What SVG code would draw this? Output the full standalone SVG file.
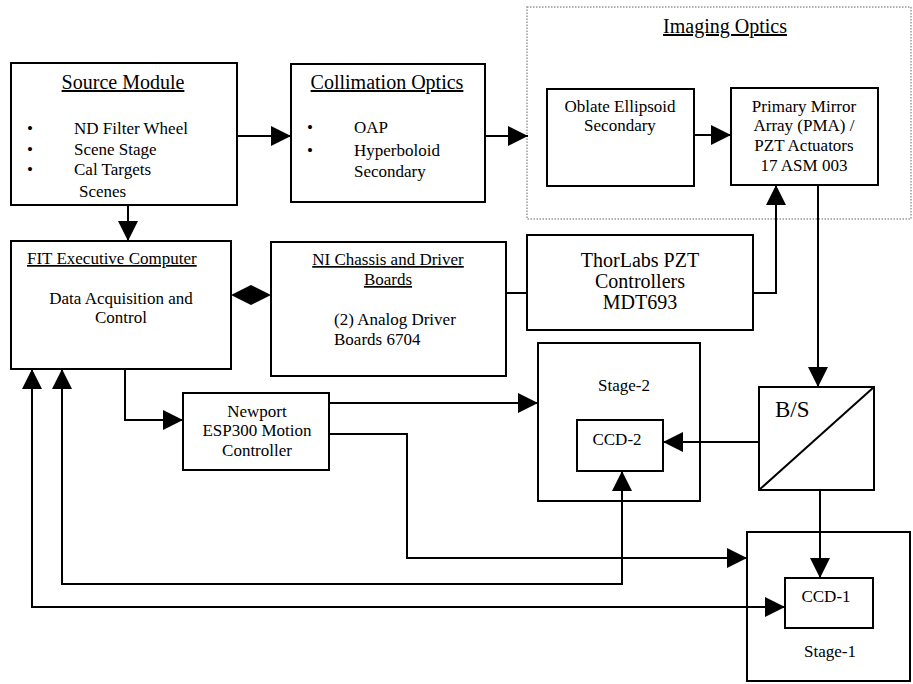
<svg xmlns="http://www.w3.org/2000/svg" width="913" height="684" viewBox="0 0 913 684" font-family="'Liberation Serif', 'DejaVu Serif', serif">
<style>
text{font-family:'Liberation Serif','DejaVu Serif',serif;fill:#000}
.t17{font-size:17px}
.t20{font-size:20px}
.u{text-decoration:underline}
.m{text-anchor:middle}
.box{fill:#fff;stroke:#000;stroke-width:2}
.c{fill:none;stroke:#000;stroke-width:2}
</style>
<defs>
<marker id="ah" viewBox="0 0 20 20" markerWidth="20" markerHeight="20" refX="20" refY="10" orient="auto-start-reverse" markerUnits="userSpaceOnUse">
<path d="M0,0 L20,10 L0,20 z" fill="#000"/>
</marker>
</defs>
<rect width="913" height="684" fill="#fff"/>

<g id="imaging-optics">
<rect x="527" y="7" width="384" height="212" fill="none" stroke="#999" stroke-width="1.5" stroke-dasharray="1.5 1.5"/>
<text x="725" y="33" class="t20 m u">Imaging Optics</text>
</g>

<g id="source-module">
<rect class="box" x="11" y="63" width="226" height="142"/>
<text x="123" y="89" class="t20 m u">Source Module</text>
<text x="30" y="134" class="t17 m">•</text>
<text x="74" y="134" class="t17">ND Filter Wheel</text>
<text x="30" y="155" class="t17 m">•</text>
<text x="74" y="155" class="t17">Scene Stage</text>
<text x="30" y="175" class="t17 m">•</text>
<text x="74" y="175" class="t17">Cal Targets</text>
<text x="79" y="197" class="t17">Scenes</text>
</g>

<g id="collimation-optics">
<rect class="box" x="291" y="64" width="194" height="138"/>
<text x="387" y="89" class="t20 m u">Collimation Optics</text>
<text x="310" y="133" class="t17 m">•</text>
<text x="354" y="133" class="t17">OAP</text>
<text x="310" y="156" class="t17 m">•</text>
<text x="354" y="156" class="t17">Hyperboloid</text>
<text x="354" y="177" class="t17">Secondary</text>
</g>

<g id="oblate-ellipsoid">
<rect class="box" x="547" y="89" width="147" height="97"/>
<text x="620" y="112" class="t17 m">Oblate Ellipsoid</text>
<text x="620" y="131" class="t17 m">Secondary</text>
</g>

<g id="pma">
<rect class="box" x="731" y="88" width="147" height="97"/>
<text x="804" y="112" class="t17 m">Primary Mirror</text>
<text x="804" y="131" class="t17 m">Array (PMA) /</text>
<text x="804" y="151" class="t17 m">PZT Actuators</text>
<text x="804" y="171" class="t17 m">17 ASM 003</text>
</g>

<g id="fit-computer">
<rect class="box" x="11" y="241" width="220" height="128"/>
<text x="27" y="264" class="t17 u">FIT Executive Computer</text>
<text x="121" y="304" class="t17 m">Data Acquisition and</text>
<text x="121" y="323" class="t17 m">Control</text>
</g>

<g id="ni-chassis">
<rect class="box" x="271" y="242" width="235" height="134"/>
<text x="388" y="265" class="t17 m u">NI Chassis and Driver</text>
<text x="388" y="285" class="t17 m u">Boards</text>
<text x="334" y="325" class="t17">(2) Analog Driver</text>
<text x="334" y="345" class="t17">Boards 6704</text>
</g>

<g id="thorlabs">
<rect class="box" x="527" y="235" width="226" height="95"/>
<text x="640" y="267" class="m" font-size="20">ThorLabs PZT</text>
<text x="640" y="288" class="m" font-size="20">Controllers</text>
<text x="640" y="309" class="m" font-size="20">MDT693</text>
</g>

<g id="newport">
<rect class="box" x="183" y="393" width="146" height="77"/>
<text x="257" y="417" class="t17 m">Newport</text>
<text x="257" y="436" class="t17 m">ESP300 Motion</text>
<text x="257" y="456" class="t17 m">Controller</text>
</g>

<g id="stage-2">
<rect class="box" x="538" y="343" width="162" height="158"/>
<text x="624" y="391" class="t17 m">Stage-2</text>
</g>

<g id="ccd-2">
<rect class="box" x="577" y="420" width="86" height="51"/>
<text x="617" y="445" class="t17 m">CCD-2</text>
</g>

<g id="beam-splitter">
<rect class="box" x="759" y="387" width="115" height="103"/>
<line x1="759" y1="490" x2="874" y2="387" stroke="#000" stroke-width="2"/>
<text x="775" y="417" font-size="23">B/S</text>
</g>

<g id="stage-1">
<rect class="box" x="747" y="532" width="163" height="149"/>
<text x="830" y="657" class="t17 m">Stage-1</text>
</g>

<g id="ccd-1">
<rect class="box" x="785" y="578" width="88" height="50"/>
<text x="826" y="602" class="t17 m">CCD-1</text>
</g>

<g id="connectors">
<path class="c" d="M237,136 H291" marker-end="url(#ah)"/>
<path class="c" d="M485,136 H528" marker-end="url(#ah)"/>
<path class="c" d="M694,135 H731" marker-end="url(#ah)"/>
<path class="c" d="M128,205 V241" marker-end="url(#ah)"/>
<polygon points="231,295 251,285 271,295 251,305" fill="#000"/>
<path class="c" d="M506,293 H527"/>
<path class="c" d="M753,293 H776 V185" marker-end="url(#ah)"/>
<path class="c" d="M818,185 V387" marker-end="url(#ah)"/>
<path class="c" d="M759,442 H663" marker-end="url(#ah)"/>
<path class="c" d="M820,490 V578" marker-end="url(#ah)"/>
<path class="c" d="M125,369 V420 H183" marker-end="url(#ah)"/>
<path class="c" d="M329,403 H538" marker-end="url(#ah)"/>
<path class="c" d="M329,434 H407 V558 H747" marker-end="url(#ah)"/>
<path class="c" d="M62,369 V584 H622 V471" marker-start="url(#ah)" marker-end="url(#ah)"/>
<path class="c" d="M32,369 V607 H785" marker-start="url(#ah)" marker-end="url(#ah)"/>
</g>
</svg>
